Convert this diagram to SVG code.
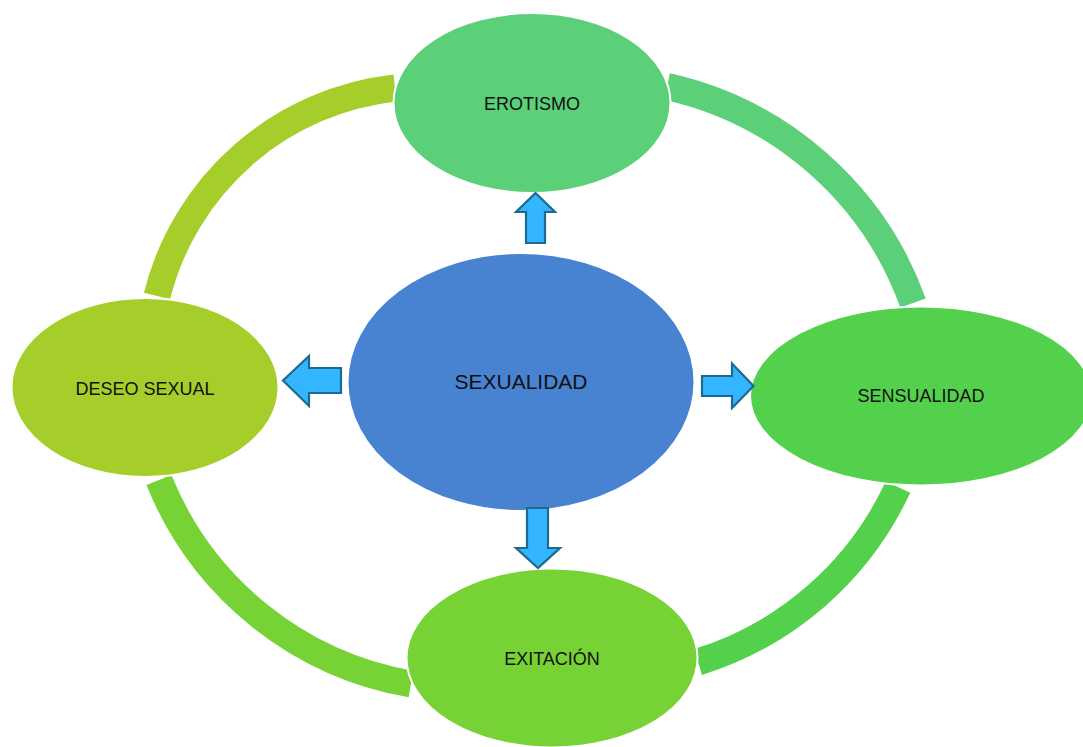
<svg xmlns="http://www.w3.org/2000/svg" width="1083" height="747" viewBox="0 0 1083 747">
<style>
.arc{fill:none;stroke-width:27;stroke-linecap:butt}
.node{stroke:#ffffff;stroke-width:2}
.arrow{fill:#33B6FF;stroke:#1B6A8F;stroke-width:2.2;stroke-linejoin:miter}
.lbl{font-family:"Liberation Sans",Arial,sans-serif;font-size:18px;fill:#111111;text-anchor:middle}
.big{font-size:21px}
</style>
<rect width="1083" height="747" fill="#ffffff"/>
<g id="connectors">
<path class="arc" stroke="#A6CE2A" d="M157,296 A277,277 0 0 1 395,88"/>
<path class="arc" stroke="#5CCF79" d="M667,86.5 A340,340 0 0 1 913,303"/>
<path class="arc" stroke="#54D14C" d="M898,487 A327,327 0 0 1 698,662"/>
<path class="arc" stroke="#77D236" d="M411,684 A333,333 0 0 1 159,480"/>
</g>
<g id="node-erotismo">
<ellipse class="node" cx="532" cy="103" rx="138.5" ry="90" fill="#5CCF79"/>
<text class="lbl" x="532" y="109.5">EROTISMO</text>
</g>
<g id="node-deseo">
<ellipse class="node" cx="145" cy="387.5" rx="133.5" ry="89.5" fill="#A6CE2A"/>
<text class="lbl" x="145" y="394.5">DESEO SEXUAL</text>
</g>
<g id="node-sensualidad">
<ellipse class="node" cx="921" cy="396" rx="171" ry="89.5" fill="#54D14C"/>
<text class="lbl" x="921" y="402">SENSUALIDAD</text>
</g>
<g id="node-exitacion">
<ellipse class="node" cx="552" cy="658" rx="145.5" ry="89.5" fill="#77D236"/>
<text class="lbl" x="552" y="665">EXITACIÓN</text>
</g>
<g id="node-sexualidad">
<ellipse class="node" cx="521" cy="382" rx="173.5" ry="129" fill="#4783D1"/>
<text class="lbl big" x="521" y="389">SEXUALIDAD</text>
</g>
<g id="arrows">
<polygon class="arrow" points="526,243 526,212 516,212 535.5,193 555,212 545,212 545,243"/>
<polygon class="arrow" points="527,508 548,508 548,548 560,548 538,568 516,548 527,548"/>
<polygon class="arrow" points="341,368 309,368 309,356 283,380.5 309,406 309,393 341,393"/>
<polygon class="arrow" points="702,376 732,376 732,363.5 753.5,386 732,408 732,396 702,396"/>
</g>
</svg>
